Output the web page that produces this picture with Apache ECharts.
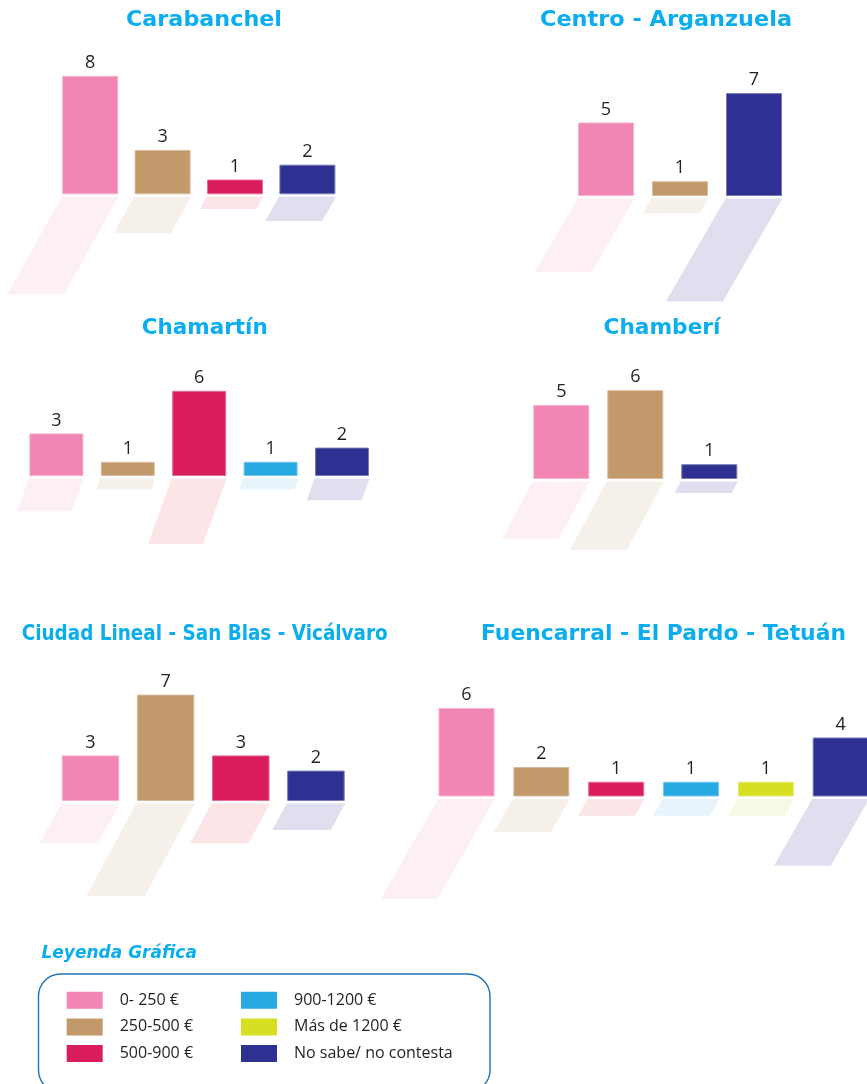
<!DOCTYPE html>
<html>
<head>
<meta charset="utf-8">
<title>Ingresos por distrito</title>
<script src="https://cdn.jsdelivr.net/npm/echarts@6/dist/echarts.min.js"></script>
<style>
  html, body { margin: 0; padding: 0; background: #ffffff; }
  #chart { width: 867px; height: 1084px; }
</style>
</head>
<body>
<div id="chart"></div>
<script>
// Income brackets (legend order)
const brackets = ['0- 250 €', '250-500 €', '500-900 €', '900-1200 €', 'Más de 1200 €', 'No sabe/ no contesta'];

// District names
const districts = ['Carabanchel', 'Centro - Arganzuela', 'Chamartín', 'Chamberí',
                   'Ciudad Lineal - San Blas - Vicálvaro', 'Fuencarral - El Pardo - Tetuán'];

// Brackets present in each district (indices into brackets) and their counts
const carabanchelBrackets = [0, 1, 2, 5];
const carabanchelCounts   = [8, 3, 1, 2];
const centroBrackets      = [0, 1, 5];
const centroCounts        = [5, 1, 7];
const chamartinBrackets   = [0, 1, 2, 3, 5];
const chamartinCounts     = [3, 1, 6, 1, 2];
const chamberiBrackets    = [0, 1, 5];
const chamberiCounts      = [5, 6, 1];
const ciudadLinealBrackets = [0, 1, 2, 5];
const ciudadLinealCounts   = [3, 7, 3, 2];
const fuencarralBrackets  = [0, 1, 2, 3, 4, 5];
const fuencarralCounts    = [6, 2, 1, 1, 1, 4];

const districtBrackets = [carabanchelBrackets, centroBrackets, chamartinBrackets,
                          chamberiBrackets, ciudadLinealBrackets, fuencarralBrackets];
const districtCounts = [carabanchelCounts, centroCounts, chamartinCounts,
                        chamberiCounts, ciudadLinealCounts, fuencarralCounts];

// Colours
const bracketColors = ['#f185b3', '#c2996b', '#d91c5c', '#27aae1', '#d7df23', '#2e3192'];
const shadowColors  = ['#fcf0f5', '#f5f1ea', '#fbe5e7', '#e7f4fb', '#f6f9e4', '#e0dff0'];
const cyan = '#0aadee';
const ink = '#231f20';

// Panel layout: plot box, px per unit, bar width, reflection length and slant
const panelLayout = [
  { left: 54.0,  width: 289.6, base: 194.3, scale: 14.8,  barWidth: 56, reflect: 0.82, slant: 0.56,  tx: 204.0, ty: 20.0,  tw: 156 },
  { left: 569.0, width: 222.0, base: 196.0, scale: 14.7,  barWidth: 56, reflect: 1.00, slant: 0.58,  tx: 666.0, ty: 20.0,  tw: 252 },
  { left: 20.7,  width: 357.0, base: 476.0, scale: 14.2,  barWidth: 54, reflect: 0.77, slant: 0.36,  tx: 204.7, ty: 328.7, tw: 126 },
  { left: 524.3, width: 222.0, base: 479.0, scale: 14.8,  barWidth: 56, reflect: 0.77, slant: 0.54,  tx: 662.0, ty: 328.0, tw: 117 },
  { left: 52.9,  width: 300.6, base: 801.0, scale: 15.2,  barWidth: 57.5, reflect: 0.87, slant: 0.54, tx: 204.7, ty: 634.5, tw: 366 },
  { left: 429.1, width: 449.0, base: 796.5, scale: 14.75, barWidth: 56, reflect: 1.13, slant: 0.575, tx: 663.5, ty: 634.7, tw: 365 }
];
const AXIS_MAX = 10;
const REFLECT_GAP = 2.5;

function lighten(hex, t) {
  const n = parseInt(hex.slice(1), 16);
  const r = (n >> 16) & 255, g = (n >> 8) & 255, b = n & 255;
  const m = c => Math.round(c + (255 - c) * t);
  return 'rgb(' + m(r) + ',' + m(g) + ',' + m(b) + ')';
}

const measureCtx = document.createElement('canvas').getContext('2d');
const titleFont = 'bold 22px "DejaVu Sans"';
measureCtx.font = titleFont;

const grids = [], xAxes = [], yAxes = [], series = [], graphics = [];

panelLayout.forEach((L, p) => {
  const idxs = districtBrackets[p];
  const counts = districtCounts[p];
  const n = idxs.length;

  grids.push({
    left: L.left, width: L.width, top: L.base - AXIS_MAX * L.scale, height: AXIS_MAX * L.scale,
    outerBoundsMode: 'none', containLabel: false
  });
  xAxes.push({ gridIndex: p, type: 'category', data: idxs.map(i => brackets[i]), show: false, boundaryGap: true });
  yAxes.push({ gridIndex: p, type: 'value', min: 0, max: AXIS_MAX, show: false });

  // one bar series per bracket so the legend can pick up names and colours
  idxs.forEach((b, i) => {
    const data = new Array(n).fill('-');
    data[i] = counts[i];
    series.push({
      type: 'bar',
      name: brackets[b],
      xAxisIndex: p,
      yAxisIndex: p,
      barWidth: L.barWidth,
      barGap: '-100%',
      data: data,
      z: 3,
      itemStyle: { color: bracketColors[b], borderColor: lighten(bracketColors[b], 0.35), borderWidth: 1 },
      label: {
        show: true, position: 'top', distance: 4,
        fontFamily: 'Open Sans', fontSize: 18, color: ink
      },
      emphasis: { disabled: true },
      silent: true
    });
  });

  // slanted pale reflection under every bar
  series.push({
    type: 'custom',
    name: 'reflejo-' + p,
    xAxisIndex: p,
    yAxisIndex: p,
    silent: true,
    z: 1,
    data: counts.map((v, i) => [i, v, idxs[i]]),
    encode: { x: 0, y: 1 },
    renderItem: function (params, api) {
      const base = api.coord([api.value(0), 0]);
      const top = api.coord([api.value(0), api.value(1)]);
      const h = (base[1] - top[1]) * L.reflect;
      const dx = h * L.slant;
      const x0 = base[0] - L.barWidth / 2 - 0.5, x1 = base[0] + L.barWidth / 2 + 0.5;
      const y0 = base[1] + REFLECT_GAP;
      return {
        type: 'polygon',
        shape: { points: [[x0, y0], [x1, y0], [x1 - dx, y0 + h], [x0 - dx, y0 + h]] },
        style: { fill: shadowColors[api.value(2)] }
      };
    }
  });

  // district title
  const w = measureCtx.measureText(districts[p]).width;
  graphics.push({
    type: 'text', x: L.tx, y: L.ty, scaleX: L.tw / w, silent: true,
    style: { text: districts[p], font: titleFont, fill: cyan, align: 'center', verticalAlign: 'middle' }
  });
});

// legend frame and heading
graphics.push({
  type: 'text', x: 41.5, y: 954, silent: true,
  style: { text: 'Leyenda Gráfica', font: 'italic bold 17px "DejaVu Sans"', fill: cyan, align: 'left', verticalAlign: 'middle' }
});
graphics.push({
  type: 'rect', silent: true,
  shape: { x: 38.5, y: 974, width: 451.5, height: 118, r: 22 },
  style: { fill: 'none', stroke: '#1c72b8', lineWidth: 1.4 }
});

const legendCommon = {
  orient: 'vertical', itemWidth: 36, itemHeight: 17, itemGap: 9.7, icon: 'rect',
  padding: 0, selectedMode: false,
  itemStyle: { borderWidth: 0 },
  textStyle: { fontFamily: 'Open Sans', fontSize: 16, color: ink, lineHeight: 17, padding: [0, 0, 0, 12] }
};

const chart = echarts.init(document.getElementById('chart'), null, { renderer: 'canvas' });
chart.setOption({
  animation: false,
  backgroundColor: '#ffffff',
  grid: grids,
  xAxis: xAxes,
  yAxis: yAxes,
  legend: [
    Object.assign({}, legendCommon, { data: brackets.slice(0, 3), left: 66.7, top: 991.7 }),
    Object.assign({}, legendCommon, { data: brackets.slice(3), left: 241, top: 991.7 })
  ],
  graphic: graphics,
  series: series
});
</script>
</body>
</html>
